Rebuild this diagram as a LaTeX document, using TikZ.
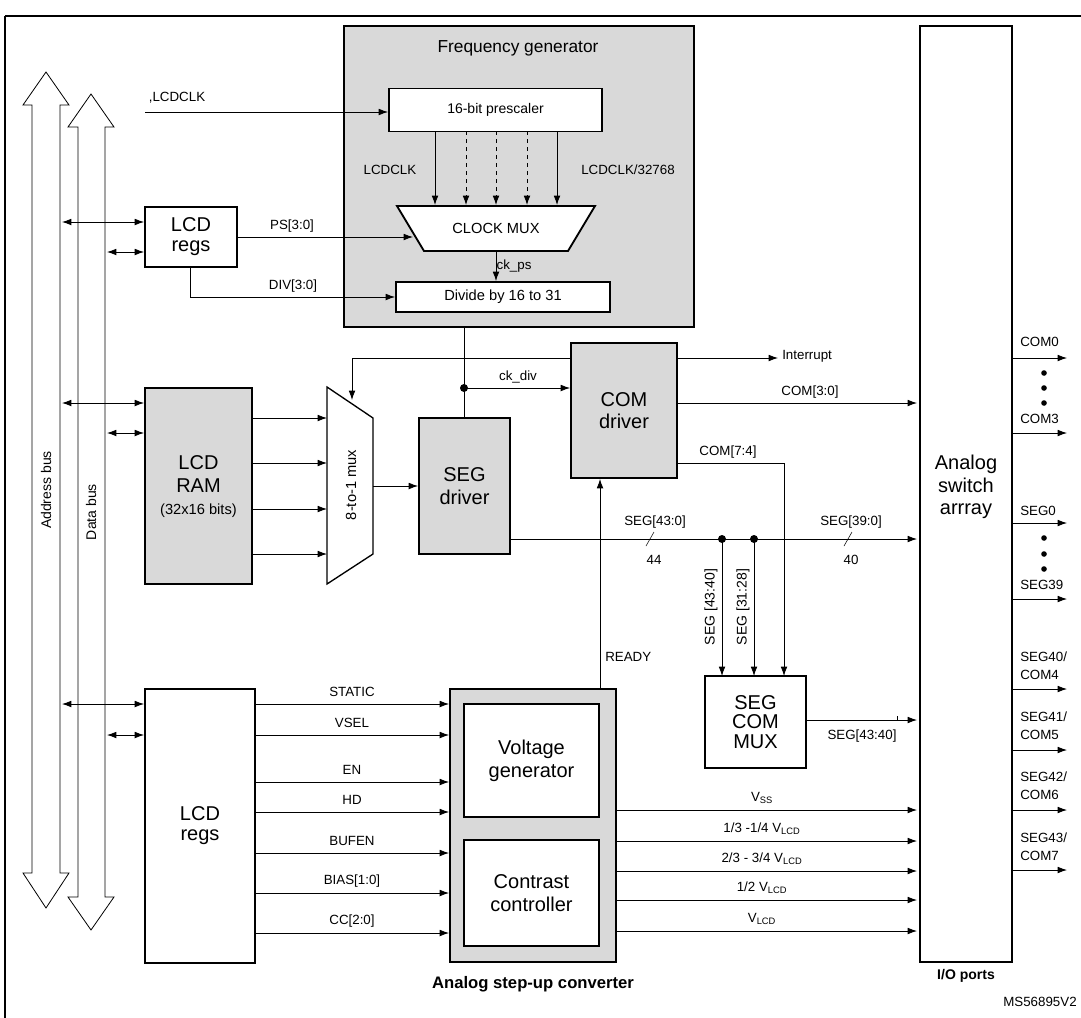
\documentclass[tikz,border=0pt]{standalone}
\usepackage{fontspec}
\setmainfont{Liberation Sans}
\usetikzlibrary{arrows.meta}
\begin{document}
\begin{tikzpicture}[x=0.75pt,y=-0.75pt,
  every node/.style={inner sep=0pt},
  blk/.style={draw,line width=1.4pt},
  gblk/.style={blk,fill=gray!30},
  sig/.style={line width=0.6pt,-{Latex[length=7pt,width=5pt]}},
  bsig/.style={line width=0.6pt,{Latex[length=7pt,width=5pt]}-{Latex[length=7pt,width=5pt]}},
  lbl/.style={font=\fontsize{10}{11}\selectfont},
  big/.style={font=\fontsize{15}{17}\selectfont,align=center},
  bus/.style={draw,line width=0.6pt,fill=white}]
\useasboundingbox (0,0) rectangle (1081,1017);
\draw[line width=1pt] (5,16) -- (1085,16) (5,16) -- (5,1020);
% buses
\draw[bus] (46,72) -- (69,105) -- (60,105) -- (60,873) -- (69,873) -- (46,908) -- (23,873) -- (32,873) -- (32,105) -- (23,105) -- cycle;
\draw[bus] (91,94) -- (114,127) -- (105,127) -- (105,897) -- (114,897) -- (91,930) -- (68,897) -- (78,897) -- (78,127) -- (68,127) -- cycle;
\node[rotate=90,font=\fontsize{10.5}{11}\selectfont] (ab) at (46,490) {Address bus};
\node[rotate=90,font=\fontsize{10.5}{11}\selectfont] (db) at (91,512) {Data bus};
\coordinate (a1) at (62,222); \coordinate (d1) at (107,252);
\coordinate (a2) at (62,403); \coordinate (d2) at (107,433);
\coordinate (a3) at (62,704); \coordinate (d3) at (107,735);
% frequency generator
\draw[gblk] (344,26) rectangle (694,327);
\node[font=\fontsize{13}{15}\selectfont] (fgt) at (518,48) {Frequency generator};
\node[blk,fill=white,minimum width=213*0.75pt,minimum height=43*0.75pt,font=\fontsize{10.5}{11}\selectfont] (pre) at (495.5,110) {16-bit prescaler};
\coordinate (lclk) at (145,112);
\draw[sig] (lclk) -- (pre.west|-lclk);
\node[lbl] (lclkl) at (177,98) {,LCDCLK};
\draw[blk,fill=white] (397,206) -- (595,206) -- (568,251) -- (424,251) -- cycle;
\node[font=\fontsize{11}{11}\selectfont] (cmux) at (496,228) {CLOCK MUX};
\foreach \x/\s in {435/solid,466/dashed,496/dashed,527/dashed,557/solid}
  \draw[sig,\s] (\x,131) -- (\x,205);
\node[lbl] (l1) at (390,170) {LCDCLK};
\node[lbl] (l2) at (628,170) {LCDCLK/32768};
\node[blk,fill=white,minimum width=214*0.75pt,minimum height=30*0.75pt,font=\fontsize{11}{11}\selectfont] (div) at (503,297) {Divide by 16 to 31};
\draw[sig] (496,251) -- (div.north-|496,0);
\node[lbl] (ckps) at (514,266) {ck\_ps};
\node[blk,fill=white,minimum width=92*0.75pt,minimum height=60*0.75pt,big] (regs1) at (191,237) {LCD\\[-2pt]regs};
\draw[bsig] (a1) -- (regs1.west|-a1);
\draw[bsig] (d1) -- (regs1.west|-d1);
\draw[sig] (regs1.east|-0,237) -- (413,237);
\node[lbl] (ps) at (292,226) {PS[3:0]};
\draw[sig] (190,267) -- (190,297) -- (div.west);
\node[lbl] (dv) at (293,286) {DIV[3:0]};
% middle
\draw[bsig] (352,400) -- (352,358) -- (778,358);
\node[lbl,anchor=west] (intr) at (782,356) {Interrupt};
\draw[line width=0.6pt] (464,327) -- (464,418);
\fill (464,388) circle (4);
\node[gblk,minimum width=106*0.75pt,minimum height=135*0.75pt,big] (com) at (624,410.5) {COM\\driver};
\draw[sig] (464,388) -- (com.west|-0,388);
\node[lbl] (ckdiv) at (518,377) {ck\_div};
\node[gblk,minimum width=107*0.75pt,minimum height=196*0.75pt] (ram) at (198.5,486) {};
\node[big] (ramt) at (198.5,474) {LCD\\RAM};
\node[font=\fontsize{11}{11}\selectfont] (ramt2) at (198.5,511) {(32x16 bits)};
\draw[bsig] (a2) -- (ram.west|-a2);
\draw[bsig] (d2) -- (ram.west|-d2);
\draw[blk,fill=white,line width=1pt] (327,387) -- (373,418) -- (373,554) -- (327,584) -- cycle;
\node[rotate=90,font=\fontsize{11}{11}\selectfont] (mux8) at (351,485) {8-to-1 mux};
\foreach \y in {418,463,509,554} \draw[sig] (ram.east|-0,\y) -- (327,\y);
\node[gblk,minimum width=91*0.75pt,minimum height=136*0.75pt,big] (seg) at (464.5,486) {SEG\\driver};
\draw[sig] (373,486) -- (seg.west);
\draw[sig] (com.east|-0,403) -- (917,403);
\node[lbl] (c30) at (810,392) {COM[3:0]};
\draw[sig] (com.east|-0,463) -- (784,463) -- (784,676);
\node[lbl] (c74) at (728,452) {COM[7:4]};
\draw[sig] (seg.east|-0,539) -- (917,539);
\fill (722,539) circle (4) (754,539) circle (4);
\node[lbl] (s430) at (655,522) {SEG[43:0]};
\node[lbl] (n44) at (654,560) {44};
\draw[line width=0.4pt] (646,546) -- (654,532);
\node[lbl] (s390) at (851,522) {SEG[39:0]};
\node[lbl] (n40) at (851,560) {40};
\draw[line width=0.4pt] (844,546) -- (852,532);
\draw[sig] (722,539) -- (722,676);
\draw[sig] (754,539) -- (754,676);
\node[rotate=90,font=\fontsize{10.5}{11}\selectfont] (s4340) at (711,607) {SEG [43:40]};
\node[rotate=90,font=\fontsize{10.5}{11}\selectfont] (s3128) at (743,607) {SEG [31:28]};
\node[blk,fill=white,minimum width=101*0.75pt,minimum height=92*0.75pt,align=center,font=\fontsize{15}{14.5}\selectfont] (scm) at (755.5,722) {SEG\\COM\\MUX};
\draw[sig] (scm.east|-0,720) -- (917,720);
\draw[line width=0.4pt] (897,716) -- (897,720);
\node[lbl] (sg4340) at (862,736) {SEG[43:40]};
% analog switch array
\draw[blk,fill=white] (920,26) rectangle (1012,962);
\node[big] (asa) at (966,487) {Analog\\switch\\arrray};
\node[font=\bfseries\fontsize{10.5}{11}\selectfont] (io) at (966,976) {I/O ports};
\foreach \y in {358,433,523,599,689,750,810,870} \draw[sig] (1012,\y) -- (1067,\y);
\tikzset{olbl/.style={anchor=west,align=left,font=\fontsize{10}{13.5}\selectfont}}
\node[olbl] (o1) at (1020,342) {COM0};
\node[olbl] (o2) at (1020,419) {COM3};
\node[olbl] (o3) at (1020,511) {SEG0};
\node[olbl] (o4) at (1020,585) {SEG39};
\node[olbl] (o5) at (1020,666) {SEG40/\\COM4};
\node[olbl] (o6) at (1020,726) {SEG41/\\COM5};
\node[olbl] (o7) at (1020,786) {SEG42/\\COM6};
\node[olbl] (o8) at (1020,847) {SEG43/\\COM7};
\foreach \y in {373,388,403,538,554,569} \fill (1044,\y) circle (2.8);
% lower
\node[blk,fill=white,minimum width=110*0.75pt,minimum height=274*0.75pt,big] (regs2) at (200,826) {LCD\\[-2pt]regs};
\draw[bsig] (a3) -- (regs2.west|-a3);
\draw[bsig] (d3) -- (regs2.west|-d3);
\node[gblk,minimum width=166*0.75pt,minimum height=273*0.75pt] (asc) at (533,825.5) {};
\node[blk,fill=white,minimum width=135*0.75pt,minimum height=113*0.75pt,big] (vg) at (531.5,760.5) {Voltage\\generator};
\node[blk,fill=white,minimum width=135*0.75pt,minimum height=106*0.75pt,big] (cc) at (531.5,893) {Contrast\\controller};
\node[font=\bfseries\fontsize{12.5}{13}\selectfont] (ascl) at (533,984) {Analog step-up converter};
\draw[sig] (600,689) -- (com.south-|600,0);
\node[lbl,anchor=west] (rdy) at (605,657) {READY};
\foreach \y/\t in {704/STATIC,735/VSEL,782/EN,812/HD,853/BUFEN,893/BIAS[1:0],933/CC[2:0]}{
  \draw[sig] (regs2.east|-0,\y) -- (asc.west|-0,\y);
  \node[lbl] at (352,\y-12) {\t};}
\foreach \y/\t in {810/{V\textsubscript{SS}},841/{1/3 -1/4 V\textsubscript{LCD}},871/{2/3 - 3/4 V\textsubscript{LCD}},900/{1/2 V\textsubscript{LCD}},931/{V\textsubscript{LCD}}}{
  \draw[sig] (asc.east|-0,\y) -- (917,\y);
  \node[lbl] at (762,\y-12) {\t};}
\node[lbl] (ms) at (1040,1002) {MS56895V2};
\end{tikzpicture}
\end{document}
